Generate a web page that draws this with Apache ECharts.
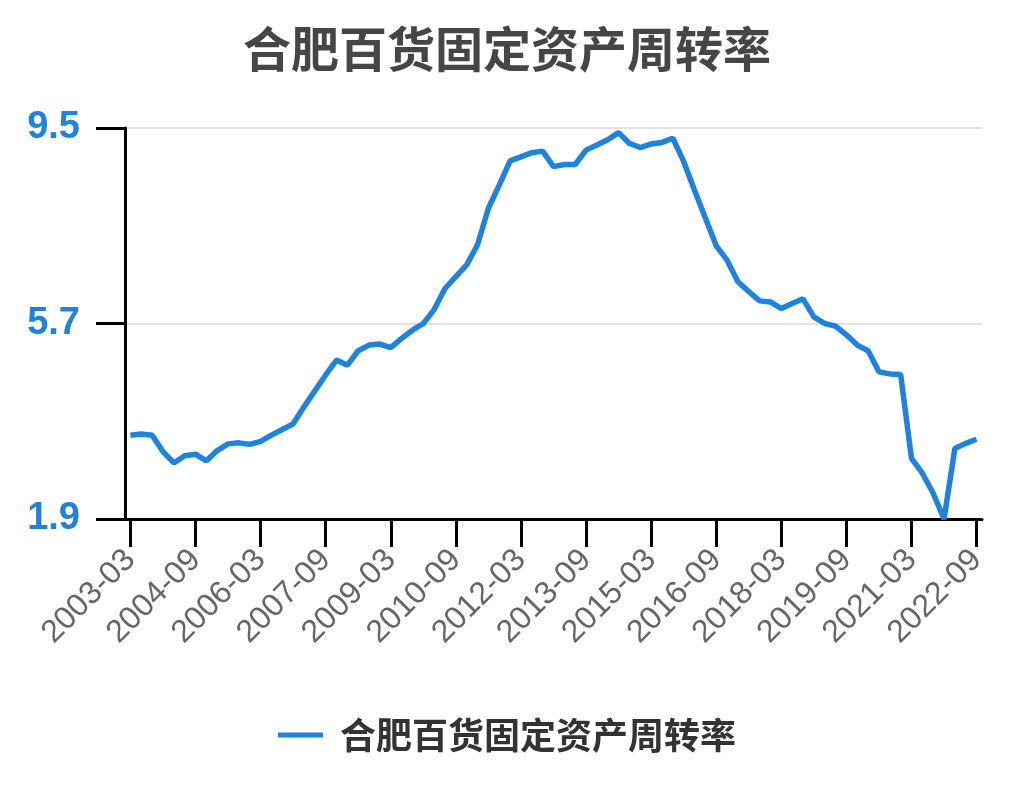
<!DOCTYPE html>
<html><head><meta charset="utf-8">
<script src="https://cdn.jsdelivr.net/npm/echarts@6/dist/echarts.min.js"></script>
<style>html,body{margin:0;padding:0;background:#fff}#c{width:1014px;height:810px}</style>
</head><body><div id="c"></div>
<script>
var seriesName = '合肥百货固定资产周转率';
var categories = [];
(function(){ for (var y = 2003; y <= 2022; y++) { ['03','06','09','12'].forEach(function(m){ var s = y + '-' + m; if (s <= '2022-09') categories.push(s); }); } })();
var values = [
3.53,3.55,3.53,3.21,2.99,3.13,3.16,3.03,3.23,3.36,
3.38,3.35,3.41,3.53,3.64,3.75,4.08,4.39,4.70,4.99,
4.89,5.17,5.28,5.30,5.23,5.41,5.57,5.70,5.97,6.38,
6.61,6.84,7.23,7.94,8.39,8.86,8.94,9.02,9.05,8.75,
8.79,8.79,9.07,9.17,9.27,9.41,9.20,9.12,9.19,9.22,
9.30,8.85,8.29,7.75,7.21,6.93,6.51,6.32,6.14,6.12,
5.99,6.09,6.18,5.83,5.70,5.65,5.48,5.28,5.17,4.76,
4.72,4.71,3.08,2.79,2.40,1.90,3.27,3.37,3.45
];
var yMin = 1.9, yMax = 9.5, yStep = 3.8;
var chart = echarts.init(document.getElementById('c'));
chart.setOption({
  animation: false,
  title: { text: seriesName, left: 'center', top: 20,
    textStyle: { fontSize: 48, fontWeight: 'bold', color: '#464646', fontFamily: 'Noto Sans CJK SC' } },
  legend: { bottom: 52, left: 'center', icon: 'rect', itemWidth: 45, itemHeight: 5,
    textStyle: { fontSize: 36, fontWeight: 'bold', color: '#333', fontFamily: 'Noto Sans CJK SC', padding: [0,0,0,12] },
    data: [seriesName] },
  grid: { left: 125, right: 32, top: 128, bottom: 291, containLabel: false },
  xAxis: { type: 'category', data: categories, boundaryGap: true,
    axisLine: { lineStyle: { color: '#000', width: 3 } },
    axisTick: { show: true, alignWithLabel: true, interval: 5, length: 28, lineStyle: { color: '#000', width: 3 } },
    axisLabel: { interval: 5, rotate: 45, margin: 36, fontSize: 32, color: '#666', fontFamily: 'Liberation Sans' },
    splitLine: { show: false } },
  yAxis: { type: 'value', min: yMin, max: yMax, interval: yStep,
    axisLine: { show: true, lineStyle: { color: '#000', width: 3 } },
    axisTick: { show: true, length: 29, lineStyle: { color: '#000', width: 3 } },
    axisLabel: { margin: 45, fontSize: 38, fontWeight: 'bold', color: '#1e82e0', fontFamily: 'Liberation Sans',
      formatter: function(v){ return v.toFixed(1); } },
    splitLine: { show: true, lineStyle: { color: '#e3e3e3', width: 2 } } },
  series: [{ name: seriesName, type: 'line', data: values, showSymbol: false, symbol: 'none',
    lineStyle: { color: '#1e82e0', width: 5.5 }, itemStyle: { color: '#1e82e0' } }]
});
</script></body></html>
